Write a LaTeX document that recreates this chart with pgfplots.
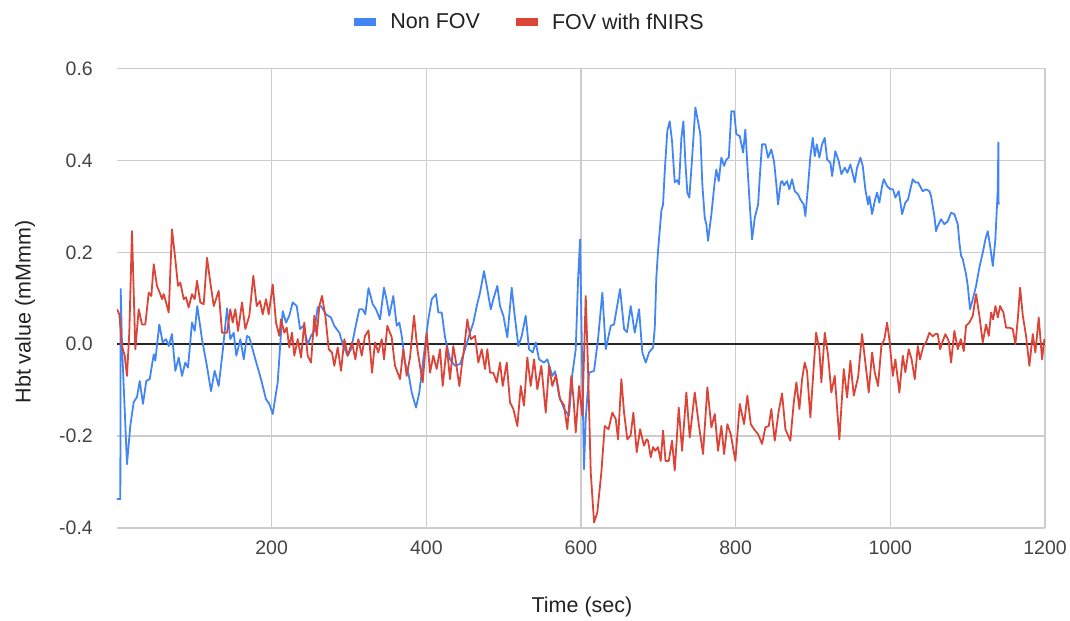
\documentclass[border=0pt]{standalone}
\usepackage{fontspec}
\setmainfont{Liberation Sans}
\usepackage{pgfplots}
\pgfplotsset{compat=1.18}
\definecolor{nonfov}{HTML}{4285F4}
\definecolor{fovred}{HTML}{DB4437}
\definecolor{gridgray}{HTML}{CCCCCC}
\definecolor{txt}{HTML}{222222}
\definecolor{ticktxt}{HTML}{444444}
\newcommand{\tickfont}{\fontsize{19.5bp}{22bp}\selectfont}
\newcommand{\titlefont}{\fontsize{21.5bp}{24bp}\selectfont}
\begin{document}
\begin{tikzpicture}
\path[use as bounding box] (-117bp,-93bp) rectangle (953bp,528bp);
\begin{axis}[
  at={(0,0)}, anchor=south west,
  scale only axis, width=928bp, height=459.5bp,
  xmin=0, xmax=1200, ymin=-0.4, ymax=0.6,
  xtick={200,400,...,1200}, xticklabels={200,400,600,800,1000,1200},
  ytick={-0.4,-0.2,0,0.2,0.4,0.6}, yticklabels={-0.4,-0.2,0.0,0.2,0.4,0.6},
  major tick length=0pt,
  grid=major, grid style={gridgray, line width=1.3bp},
  axis line style={draw=none},
  extra y ticks={0}, extra y tick labels={},
  extra y tick style={grid style={black!85, line width=1.4bp}},
  tick label style={font=\tickfont, text=ticktxt, inner sep=0pt},
  xticklabel style={yshift=-13bp},
  yticklabel style={xshift=-24bp},
  xlabel={Time (sec)}, ylabel={Hbt value (mMmm)},
  label style={font=\titlefont, text=txt},
  xlabel style={at={(axis description cs:0.501,-0.172)}, anchor=center},
  ylabel style={at={(axis description cs:-0.099,0.47)}, anchor=center},
  legend style={at={(0.443,1.101)}, anchor=center, draw=none, fill=none,
    font=\titlefont, text=txt, legend columns=2,
    /tikz/every odd column/.append style={column sep=8bp},
    /tikz/every even column/.append style={column sep=30bp}},
  legend image code/.code={\draw[#1, line width=8bp] (0bp,0bp) -- (22bp,0bp);},
  every axis plot/.append style={line width=1.8bp, line join=round},
]
% Non FOV channel
\addplot[nonfov] coordinates {
(0,-0.337) (4.3,-0.337) (4.8,0.120) (6.5,-0.004) (12.9,-0.261) (17.2,-0.178)
(21.6,-0.126) (25.9,-0.115) (29.4,-0.080) (33.6,-0.130) (37.9,-0.080) (42.3,-0.076)
(47.5,-0.022) (49.5,-0.036) (54.7,0.043) (59.1,0.004) (63.4,0.011) (66.9,-0.004)
(71.1,0.022) (75.4,-0.058) (79.8,-0.029) (84.1,-0.069) (88.3,-0.040) (91.8,-0.051)
(97.0,0.047) (100.5,0.029) (103.8,0.083) (109.9,0.011) (115.5,-0.040) (121.6,-0.102)
(126.3,-0.058) (131.5,-0.091) (136.7,-0.015) (142.3,0.078) (146.5,0.011) (150.9,0.025)
(154.3,-0.025) (159.5,0.011) (163.9,-0.033) (168.1,0.018) (171.1,0.015) (177.6,-0.025)
(186.2,-0.076) (192.7,-0.120) (197.0,-0.130) (201.4,-0.152) (207.8,-0.083) (212.1,0.025)
(214.3,0.072) (218.6,0.047) (222.8,0.062) (227.2,0.091) (232.4,0.083) (236.7,0.033)
(240.9,0.040) (246.6,0.000) (250.9,0.018) (255.2,0.029) (259.5,0.080) (263.8,0.083)
(270.3,0.065) (276.7,0.058) (281.0,0.040) (287.5,0.025) (292.7,-0.004) (298.3,-0.025)
(302.6,-0.011) (309.1,0.043) (313.3,0.076) (317.7,0.076) (321.1,0.065) (325.2,0.122)
(330.7,0.087) (334.9,0.076) (340.1,0.054) (345.3,0.123) (348.5,0.098) (352.1,0.062)
(357.3,0.105) (361.7,0.040) (365.1,0.047) (368.2,0.018) (372.4,-0.040) (376.7,-0.062)
(381.1,-0.105) (386.7,-0.138) (390.9,-0.105) (396.1,-0.033) (402.6,0.054) (407.0,0.098)
(412.5,0.109) (415.5,0.069) (419.9,0.069) (424.2,0.015) (430.6,-0.033) (437.1,-0.047)
(443.6,-0.043) (450.0,-0.011) (456.5,0.025) (460.8,0.047) (465.2,0.083) (469.4,0.112)
(474.6,0.159) (478.1,0.127) (483.3,0.076) (486.6,0.098) (491.8,0.127) (495.3,0.083)
(499.6,0.062) (504.7,0.015) (510.4,0.123) (513.8,0.069) (519.0,-0.004) (523.4,0.018)
(528.5,0.062) (532.8,-0.011) (537.6,-0.018) (541.5,0.004) (545.7,-0.033) (552.2,-0.040)
(556.5,-0.033) (562.9,-0.069) (566.4,-0.059) (571.6,-0.112) (578.1,-0.141) (584.5,-0.156)
(588.8,-0.065) (593.2,-0.011) (596.2,0.141) (598.8,0.228) (601.0,0.004) (603.9,-0.272)
(606.1,-0.163) (610.4,-0.062) (616.9,-0.058) (622.0,0.011) (627.6,0.112) (632.0,-0.011)
(638.5,0.040) (642.7,0.043) (650.5,0.120) (655.7,0.033) (659.5,0.026) (664.3,0.083)
(669.5,0.025) (675.1,0.076) (679.3,-0.018) (683.7,-0.040) (688.0,-0.018) (693.2,-0.007)
(695.4,0.036) (697.4,0.145) (699.6,0.203) (703.9,0.290) (706.1,0.304) (708.3,0.377)
(711.6,0.464) (714.7,0.485) (717.7,0.442) (721.2,0.352) (724.2,0.357) (726.8,0.348)
(729.8,0.449) (732.4,0.485) (734.9,0.398) (737.5,0.330) (740.1,0.319) (744.0,0.413)
(747.9,0.515) (751.3,0.485) (754.3,0.457) (756.9,0.348) (760.0,0.275) (762.1,0.261)
(764.3,0.225) (768.6,0.283) (773.0,0.355) (775.0,0.380) (778.1,0.355) (781.5,0.406)
(785.0,0.388) (788.0,0.402) (791.1,0.406) (794.4,0.507) (797.9,0.507) (800.9,0.457)
(805.3,0.453) (809.6,0.417) (812.5,0.467) (815.1,0.391) (818.2,0.304) (821.2,0.228)
(824.7,0.275) (829.0,0.304) (831.1,0.362) (834.1,0.435) (838.4,0.435) (841.9,0.406)
(846.1,0.424) (849.6,0.398) (852.6,0.348) (854.8,0.304) (858.3,0.352) (860.0,0.355)
(862.6,0.346) (866.4,0.355) (869.4,0.337) (872.9,0.359) (876.4,0.333) (880.7,0.326)
(883.6,0.315) (888.0,0.304) (890.1,0.279) (893.6,0.344) (896.6,0.409) (899.7,0.449)
(902.3,0.409) (904.9,0.435) (908.2,0.406) (911.7,0.435) (915.2,0.449) (918.2,0.402)
(922.5,0.395) (924.7,0.366) (928.9,0.420) (933.3,0.398) (936.7,0.370) (941.1,0.384)
(944.4,0.373) (948.3,0.391) (950.9,0.374) (954.0,0.352) (957.0,0.384) (961.3,0.406)
(964.3,0.388) (967.7,0.337) (971.2,0.304) (972.9,0.322) (976.4,0.283) (979.9,0.312)
(982.8,0.330) (985.8,0.308) (989.3,0.344) (991.5,0.359) (995.8,0.344) (1000.0,0.337)
(1003.5,0.337) (1006.5,0.319) (1010.9,0.333) (1015.2,0.283) (1019.4,0.308) (1022.9,0.315)
(1025.9,0.337) (1029.0,0.359) (1032.4,0.352) (1035.9,0.352) (1041.9,0.333) (1046.2,0.337)
(1050.5,0.333) (1052.7,0.322) (1056.9,0.279) (1059.1,0.246) (1061.3,0.257) (1065.6,0.272)
(1069.9,0.261) (1074.3,0.268) (1078.5,0.286) (1082.8,0.283) (1087.2,0.261) (1089.3,0.221)
(1091.5,0.192) (1093.7,0.185) (1097.9,0.152) (1100.1,0.127) (1103.1,0.076) (1106.6,0.098)
(1110.9,0.127) (1115.1,0.167) (1119.5,0.199) (1122.9,0.228) (1126.0,0.246) (1129.0,0.214)
(1132.5,0.170) (1135.8,0.228) (1138.9,0.337) (1139.7,0.439) (1140.0,0.304)
};
\addlegendentry{Non FOV}
% FOV channel recorded with fNIRS
\addplot[fovred] coordinates {
(0,0.076) (3.0,0.065) (6.5,-0.004) (10.0,-0.025) (12.9,-0.069) (15.9,0.025)
(19.4,0.246) (23.7,-0.011) (28.1,0.076) (32.3,0.043) (36.6,0.043) (41.0,0.112)
(44.4,0.105) (47.5,0.174) (51.7,0.127) (56.0,0.109) (58.2,0.098) (60.4,0.109)
(63.4,0.091) (66.9,0.069) (71.1,0.250) (75.4,0.185) (78.9,0.127) (81.9,0.134)
(86.3,0.098) (89.2,0.102) (92.7,0.080) (97.0,0.109) (100.5,0.098) (103.5,0.138)
(107.7,0.091) (112.1,0.087) (116.4,0.188) (120.7,0.134) (125.1,0.083) (131.5,0.116)
(135.8,0.025) (142.3,0.025) (146.5,0.076) (149.6,0.047) (153.0,0.076) (156.5,0.029)
(161.7,0.091) (165.9,0.033) (171.1,0.062) (176.3,0.149) (180.7,0.083) (184.9,0.094)
(188.4,0.065) (192.7,0.098) (196.2,0.065) (201.4,0.130) (205.6,0.047) (209.9,0.018)
(212.1,0.054) (216.4,0.025) (219.5,0.036) (222.8,-0.007) (226.3,0.025) (229.3,-0.025)
(233.7,0.011) (238.0,-0.029) (242.2,0.047) (246.6,-0.025) (250.9,-0.040) (255.2,0.062)
(258.3,0.018) (261.6,0.083) (265.1,0.105) (269.4,0.062) (273.8,-0.011) (278.0,-0.018)
(281.0,-0.047) (285.4,-0.007) (289.7,-0.058) (294.0,0.011) (298.3,-0.025) (303.9,0.004)
(308.2,-0.033) (312.1,0.011) (316.5,-0.025) (320.7,0.018) (325.2,0.030) (329.8,-0.062)
(333.6,0.004) (337.9,-0.018) (342.3,0.011) (345.3,-0.033) (349.6,0.040) (355.2,0.015)
(359.5,-0.047) (366.0,-0.076) (370.2,-0.011) (374.6,-0.069) (378.9,-0.029) (384.1,0.062)
(388.4,-0.011) (391.8,-0.047) (395.3,-0.083) (400.5,0.025) (404.8,-0.062) (409.0,-0.025)
(413.4,-0.054) (417.7,-0.011) (421.2,-0.091) (426.4,-0.004) (430.6,-0.076) (434.9,-0.004)
(438.4,-0.040) (442.7,-0.091) (445.8,-0.047) (448.8,-0.011) (453.0,0.054) (457.4,0.011)
(463.0,0.018) (467.2,-0.040) (471.6,-0.011) (475.9,-0.054) (478.9,-0.011) (482.4,-0.062)
(486.6,-0.062) (491.0,-0.083) (495.3,-0.040) (498.8,-0.091) (504.0,-0.040) (508.2,-0.127)
(512.5,-0.141) (517.7,-0.178) (522.1,-0.091) (526.3,-0.134) (530.6,-0.029) (535.0,-0.091)
(539.3,-0.033) (543.5,-0.098) (548.7,-0.047) (554.4,-0.149) (558.7,-0.047) (562.9,-0.091)
(567.7,-0.067) (572.9,-0.120) (578.1,-0.133) (582.3,-0.185) (587.5,-0.069) (590.4,-0.120)
(593.2,-0.192) (597.5,-0.091) (601.7,-0.156) (606.1,0.105) (609.1,-0.054) (612.6,-0.279)
(616.9,-0.388) (621.1,-0.366) (626.3,-0.279) (630.7,-0.178) (635.6,-0.185) (640.5,-0.149)
(644.9,-0.163) (647.9,-0.207) (652.2,-0.076) (655.7,-0.149) (659.9,-0.207) (664.1,-0.199)
(667.7,-0.149) (672.1,-0.235) (676.4,-0.185) (681.5,-0.221) (684.8,-0.207) (686.7,-0.210)
(690.2,-0.246) (693.2,-0.224) (696.1,-0.232) (699.6,-0.224) (703.1,-0.254) (706.1,-0.188)
(709.3,-0.254) (713.5,-0.254) (717.7,-0.210) (721.2,-0.275) (726.4,-0.138) (730.7,-0.232)
(736.2,-0.105) (740.6,-0.203) (747.1,-0.105) (752.3,-0.174) (757.8,-0.239) (763.4,-0.094)
(768.6,-0.181) (773.0,-0.152) (777.2,-0.232) (781.5,-0.178) (785.0,-0.239) (789.3,-0.174)
(793.6,-0.196) (799.6,-0.254) (805.3,-0.130) (810.9,-0.174) (815.1,-0.112) (819.5,-0.174)
(823.8,-0.185) (829.0,-0.196) (834.1,-0.217) (838.4,-0.181) (842.8,-0.178) (846.1,-0.141)
(850.5,-0.210) (855.7,-0.145) (860.0,-0.107) (864.3,-0.185) (870.7,-0.210) (875.1,-0.127)
(878.5,-0.083) (882.4,-0.141) (885.9,-0.076) (889.3,-0.040) (892.3,-0.059) (896.6,-0.159)
(901.0,-0.047) (904.0,0.025) (908.2,-0.011) (910.8,-0.083) (915.2,0.025) (919.5,-0.025)
(923.7,-0.105) (928.1,-0.069) (934.1,-0.207) (939.8,-0.054) (944.1,-0.116) (948.3,-0.036)
(952.7,-0.112) (958.3,-0.072) (963.4,0.022) (967.7,-0.040) (972.1,-0.105) (976.4,-0.018)
(979.9,-0.062) (984.1,-0.091) (988.4,-0.004) (992.3,0.011) (995.8,0.047) (998.7,0.011)
(1003.2,-0.069) (1006.5,-0.033) (1011.7,-0.105) (1016.1,-0.025) (1019.4,-0.061) (1023.8,-0.011)
(1027.5,-0.033) (1031.6,-0.076) (1035.5,-0.004) (1038.4,-0.033) (1042.7,-0.004) (1046.2,0.004)
(1050.5,0.025) (1054.9,0.017) (1058.2,0.022) (1061.3,0.022) (1064.3,-0.011) (1067.8,0.007)
(1071.2,0.022) (1075.5,0.007) (1078.5,-0.040) (1082.8,0.029) (1087.2,-0.011) (1091.1,0.011)
(1095.0,-0.015) (1097.9,0.040) (1102.2,0.047) (1106.6,0.062) (1110.9,0.109) (1115.1,0.062)
(1119.5,0.004) (1123.8,0.043) (1127.3,0.018) (1130.3,0.069) (1132.9,0.054) (1135.9,0.083)
(1139.0,0.058) (1141.9,0.083) (1146.2,0.069) (1149.7,0.036) (1154.0,0.036) (1158.3,0.033)
(1161.7,0.000) (1164.8,0.054) (1167.8,0.123) (1171.3,0.062) (1175.5,0.018) (1179.8,-0.047)
(1184.2,0.022) (1187.5,-0.018) (1191.9,0.058) (1196.2,-0.033) (1199.2,0.011)
};
\addlegendentry{FOV with fNIRS}
\end{axis}
\end{tikzpicture}
\end{document}
